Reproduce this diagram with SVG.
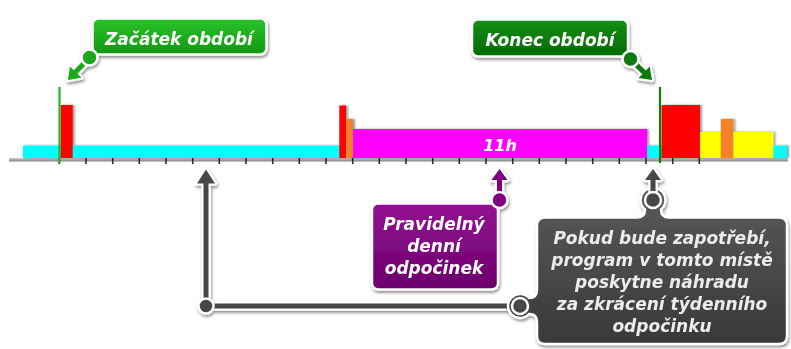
<svg xmlns="http://www.w3.org/2000/svg" width="791" height="349" viewBox="0 0 791 349">
<defs>
  <filter id="sh" x="-20%" y="-20%" width="140%" height="150%">
    <feDropShadow dx="1" dy="2" stdDeviation="1.8" flood-color="#000" flood-opacity="0.45"/>
  </filter>
  <filter id="bsh" x="-20%" y="-10%" width="140%" height="120%">
    <feDropShadow dx="2" dy="0" stdDeviation="1.2" flood-color="#000" flood-opacity="0.4"/>
  </filter>
  <linearGradient id="gG" x1="0" y1="0" x2="0" y2="1"><stop offset="0" stop-color="#2cc22c"/><stop offset="1" stop-color="#0f980f"/></linearGradient>
  <linearGradient id="gD" x1="0" y1="0" x2="0" y2="1"><stop offset="0" stop-color="#158f15"/><stop offset="1" stop-color="#026a02"/></linearGradient>
  <linearGradient id="gP" x1="0" y1="0" x2="0" y2="1"><stop offset="0" stop-color="#930f93"/><stop offset="1" stop-color="#6c006c"/></linearGradient>
  <linearGradient id="gK" x1="0" y1="0" x2="0" y2="1"><stop offset="0" stop-color="#5a5a5a"/><stop offset="1" stop-color="#393939"/></linearGradient>
  <linearGradient id="gB" x1="0" y1="0" x2="0" y2="1"><stop offset="0" stop-color="#d0d0d0"/><stop offset="1" stop-color="#808080"/></linearGradient>
  <path id="arr" d="M0,0 L8,11 L2.5,11 L2.5,31 L-2.5,31 L-2.5,11 L-8,11 Z"/>
</defs>
<style>
  .t{font-family:"DejaVu Sans",Verdana,sans-serif;font-weight:bold;font-style:italic;font-size:17px;fill:#fff;text-anchor:middle}
  .tk{font-family:"DejaVu Sans",Verdana,sans-serif;font-weight:bold;font-style:italic;font-size:17px;fill:#ececec;text-anchor:middle}
  .o{fill:#fff;stroke:#fff;stroke-width:4.5;stroke-linejoin:round}
  .box{stroke:#fff;stroke-width:2.5}
  .ring{stroke:#fff;stroke-width:2.5}
  .tick{stroke:#222;stroke-width:1.5}
</style>

<g id="timeline">
  <rect x="9" y="158" width="779" height="3.5" fill="url(#gB)"/>
  <g filter="url(#bsh)">
    <rect x="23" y="145.5" width="764" height="12.5" fill="#00ffff"/>
    <rect x="60.7" y="105" width="12" height="53" fill="#ff0000"/>
    <rect x="339.3" y="105.5" width="6.7" height="52.5" fill="#ff0000"/>
    <rect x="346" y="119" width="7" height="39" fill="#f5822a"/>
    <rect x="353" y="129" width="294" height="29" fill="#ff00ff"/>
    <rect x="661.5" y="105" width="38.5" height="53" fill="#ff0000"/>
    <rect x="700" y="132" width="73.3" height="26" fill="#ffff00"/>
    <rect x="720.7" y="119" width="12.6" height="39" fill="#f5822a"/>
  </g>
  <path class="tick" d="M59.3,158v6M86,158v6M112.7,158v6M139.3,158v6M166,158v6M192.7,158v6M219.3,158v6M246,158v6M272.7,158v6M299.3,158v6M326,158v6M352.7,158v6M379.3,158v6M406,158v6M432.7,158v6M459.3,158v6M486,158v6M512.7,158v6M539.3,158v6M566,158v6M592.7,158v6M619.3,158v6M646,158v6M672.7,158v6M699.3,158v6"/>
  <line x1="59.5" y1="87" x2="59.5" y2="163" stroke="#22b522" stroke-width="2.2"/>
  <line x1="660" y1="87" x2="660" y2="163" stroke="#0e7e0e" stroke-width="2.2"/>
  <text x="500" y="151" class="t" style="font-size:16px">11h</text>
</g>

<g id="connectors" filter="url(#sh)">
  <path d="M206,182 V306 H520" fill="none" stroke="#fff" stroke-width="9.5" stroke-linejoin="round"/>
  <polygon points="206,169.5 215,183.5 197,183.5" fill="#fff" stroke="#fff" stroke-width="4.5" stroke-linejoin="round"/>
  <path d="M206,182 V306 H520" fill="none" stroke="#474747" stroke-width="5"/>
  <polygon points="206,169.5 215,183.5 197,183.5" fill="#474747"/>
  <circle cx="206" cy="306" r="7.5" fill="#474747" class="ring"/>
</g>

<g id="start-callout" filter="url(#sh)">
  <rect x="92.5" y="18.5" width="174" height="36" rx="6" fill="url(#gG)" class="box"/>
  <g transform="translate(68,80) rotate(-136)"><use href="#arr" class="o"/><use href="#arr" fill="#1aa81a"/></g>
  <circle cx="89.5" cy="57.5" r="8" fill="#1aa81a" class="ring"/>
  <text x="179" y="44.5" class="t">Začátek období</text>
</g>

<g id="end-callout" filter="url(#sh)">
  <rect x="472" y="19.5" width="156" height="37" rx="6" fill="url(#gD)" class="box"/>
  <g transform="translate(652,80) rotate(134)"><use href="#arr" class="o"/><use href="#arr" fill="#0b7a0b"/></g>
  <circle cx="630.5" cy="59" r="8" fill="#0b7a0b" class="ring"/>
  <text x="550" y="45.5" class="t">Konec období</text>
</g>

<g id="daily-rest-callout" filter="url(#sh)">
  <rect x="372" y="203.5" width="126" height="86" rx="6" fill="url(#gP)" class="box"/>
  <g transform="translate(499.5,169)"><use href="#arr" class="o"/><use href="#arr" fill="#7e007e"/></g>
  <circle cx="499.5" cy="200" r="8" fill="#7e007e" class="ring"/>
  <text x="434" y="230" class="t">Pravidelný</text>
  <text x="434" y="252" class="t">denní</text>
  <text x="434" y="274" class="t">odpočinek</text>
</g>

<g id="compensation-callout" filter="url(#sh)">
  <path d="M545,217.5 L637,217.5 Q645,217.5 645,209.5 A12.4,12.4 0 1 1 661,209.5 Q661,217.5 669,217.5 L779,217.5 Q787,217.5 787,225.5 L787,336 Q787,344 779,344 L545,344 Q537,344 537,336 L537,322 Q537,314 529,314 A12,12 0 1 1 529,298 Q537,298 537,290 L537,225.5 Q537,217.5 545,217.5 Z" fill="url(#gK)" class="box"/>
  <g transform="translate(653,169)"><use href="#arr" class="o"/><use href="#arr" fill="#474747"/></g>
  <circle cx="653" cy="200" r="8" fill="#474747" class="ring"/>
  <circle cx="520" cy="306" r="8" fill="#474747" class="ring"/>
  <text x="662" y="244" class="tk">Pokud bude zapotřebí,</text>
  <text x="662" y="266" class="tk">program v tomto místě</text>
  <text x="662" y="288" class="tk">poskytne náhradu</text>
  <text x="662" y="310" class="tk">za zkrácení týdenního</text>
  <text x="662" y="332" class="tk">odpočinku</text>
</g>
</svg>
